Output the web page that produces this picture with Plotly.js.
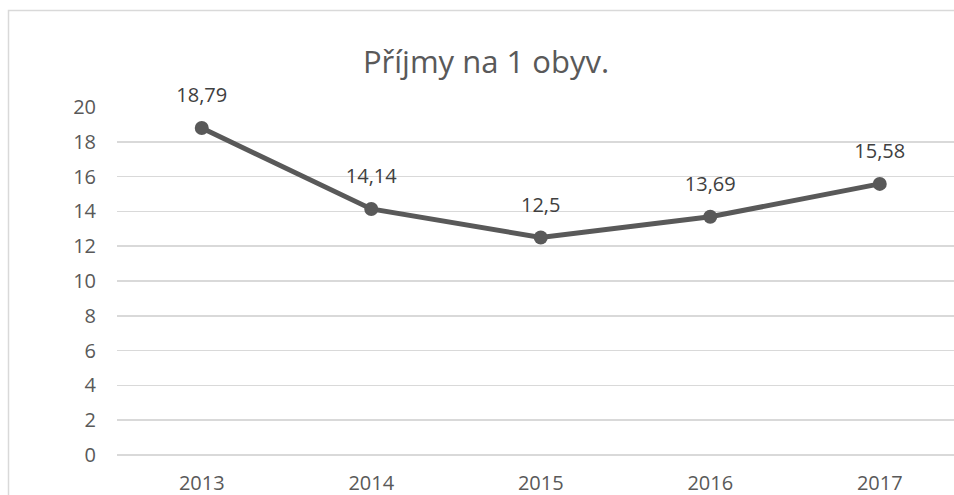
<!DOCTYPE html>
<html>
<head>
<meta charset="utf-8">
<script src="https://cdn.plot.ly/plotly-3.0.1.min.js"></script>
<style>html,body{margin:0;padding:0;overflow:hidden;background:#fff}</style>
</head>
<body>
<div id="chart" style="width:954px;height:495px"></div>
<script>
const years = ['2013', '2014', '2015', '2016', '2017'];
const values = [18.79, 14.14, 12.5, 13.69, 15.58];
const yTicks = [0, 2, 4, 6, 8, 10, 12, 14, 16, 18, 20];
const chartTitle = 'Příjmy na 1 obyv.';

const font = 'Open Sans, sans-serif';
const grey = '#595959';

Plotly.newPlot('chart', [{
  x: years,
  y: values,
  type: 'scatter',
  mode: 'lines+markers',
  line: {color: grey, width: 5},
  marker: {color: grey, size: 14},
  cliponaxis: false,
  hoverinfo: 'skip'
}, {
  x: years,
  y: values,
  type: 'scatter',
  mode: 'markers+text',
  marker: {color: 'rgba(0,0,0,0)', size: 32},
  text: values.map(v => String(v).replace('.', ',')),
  textposition: 'top center',
  textfont: {family: font, size: 20, color: '#404040'},
  cliponaxis: false,
  hoverinfo: 'skip'
}], {
  width: 954,
  height: 495,
  margin: {l: 117, r: 0, t: 107, b: 40},
  paper_bgcolor: '#fff',
  plot_bgcolor: '#fff',
  showlegend: false,
  title: {text: chartTitle, font: {family: font, size: 31, color: grey}, x: 486/954, xanchor: 'center', y: 1 - 62/495, yanchor: 'middle'},
  xaxis: {
    type: 'category',
    range: [-0.5, 4.438],
    showgrid: false,
    zeroline: false,
    showline: false,
    ticks: '',
    tickfont: {family: font, size: 20, color: grey},
    ticklabelstandoff: 14
  },
  yaxis: {
    range: [0, 20],
    tickvals: yTicks,
    showgrid: true,
    gridcolor: '#d9d9d9',
    gridwidth: 1.5,
    zeroline: true,
    zerolinecolor: '#d9d9d9',
    zerolinewidth: 1.5,
    ticks: '',
    tickfont: {family: font, size: 20, color: grey},
    ticklabelstandoff: 20
  },
  shapes: [{
    type: 'rect', xref: 'paper', yref: 'paper',
    x0: (8.5 - 117) / 837, x1: 2,
    y0: -0.5, y1: (455 - 10.5) / 348,
    line: {color: '#d9d9d9', width: 1.5},
    layer: 'below'
  }]
}, {displayModeBar: false, staticPlot: true});
</script>
</body>
</html>
